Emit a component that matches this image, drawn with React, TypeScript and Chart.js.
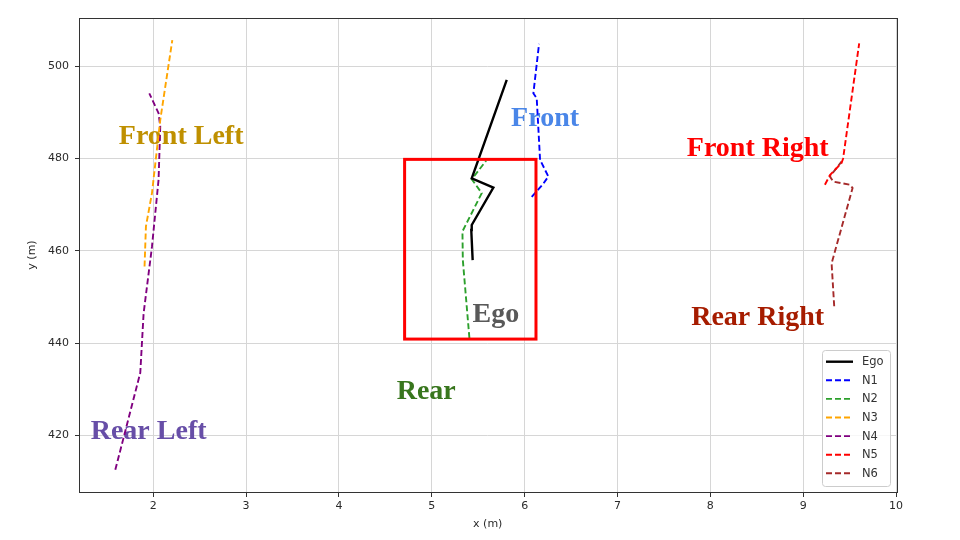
import React, { useEffect, useRef } from "react";
import { Chart, registerables } from "chart.js";

Chart.register(...registerables);

// Axis ranges and ticks
const xMin = 1.2;
const xMax = 10.005;
const yMin = 407.8;
const yMax = 510.4;
const xTicks = [2, 3, 4, 5, 6, 7, 8, 9, 10];
const yTicks = [420, 440, 460, 480, 500];

// Series
const egoX = [5.44, 5.425, 5.43, 5.663, 5.43, 5.807];
const egoY = [458.0, 464.5, 465.6, 473.7, 475.7, 497.0];

const n1X = [6.076, 6.2, 6.255, 6.166, 6.13, 6.094, 6.155];
const n1Y = [471.7, 474.5, 476.1, 479.7, 493.0, 494.1, 504.8];

const n2X = [5.405, 5.334, 5.33, 5.538, 5.43, 5.585];
const n2Y = [441.1, 458.0, 464.2, 472.5, 475.5, 479.5];

const n3X = [1.906, 1.921, 1.986, 2.075, 2.205];
const n3Y = [456.6, 465.3, 472.5, 488.3, 505.6];

const n4X = [1.591, 1.86, 1.896, 1.986, 2.057, 2.075, 2.057, 1.957];
const n4Y = [412.6, 433.6, 446.5, 460.9, 475.4, 486.9, 489.8, 494.1];

const n5X = [9.234, 9.288, 9.413, 9.43, 9.603];
const n5Y = [474.3, 476.4, 479.0, 480.0, 504.9];

const n6X = [9.334, 9.306, 9.532, 9.503, 9.323, 9.288, 9.413];
const n6Y = [448.0, 457.3, 473.6, 474.3, 475.0, 476.1, 479.3];

const seriesLabels = ["Ego", "N1", "N2", "N3", "N4", "N5", "N6"];
const seriesX = [egoX, n1X, n2X, n3X, n4X, n5X, n6X];
const seriesY = [egoY, n1Y, n2Y, n3Y, n4Y, n5Y, n6Y];
const seriesColors = ["#000000", "#0000ff", "#2ca02c", "#ffa500", "#800080", "#ff0000", "#a52a2a"];

// Highlight box (data coordinates)
const boxX = [4.707, 6.122];
const boxY = [440.9, 479.8];

// Text annotations (data coordinates)
const noteTexts = ["Front Left", "Front", "Front Right", "Rear Right", "Ego", "Rear", "Rear Left"];
const noteX = [2.3, 6.22, 8.51, 8.51, 5.69, 4.94, 1.95];
const noteY = [484.6, 488.5, 482.0, 445.5, 446.1, 429.5, 420.8];
const noteColors = ["#bf9000", "#4a86e8", "#ff0000", "#a61c00", "#595959", "#38761d", "#674ea7"];

const notesPlugin = {
  id: "notes",
  beforeDatasetsDraw(chart: any) {
    const { ctx, scales } = chart;
    ctx.save();
    ctx.font = "bold 28px 'Liberation Serif', 'Times New Roman', serif";
    ctx.textAlign = "center";
    ctx.textBaseline = "middle";
    noteTexts.forEach((t, i) => {
      ctx.fillStyle = noteColors[i];
      ctx.fillText(t, scales.x.getPixelForValue(noteX[i]), scales.y.getPixelForValue(noteY[i]));
    });
    ctx.restore();
  },
  afterDatasetsDraw(chart: any) {
    const { ctx, scales, chartArea } = chart;
    ctx.save();
    // red highlight box
    const x0 = scales.x.getPixelForValue(boxX[0]);
    const x1 = scales.x.getPixelForValue(boxX[1]);
    const y0 = scales.y.getPixelForValue(boxY[1]);
    const y1 = scales.y.getPixelForValue(boxY[0]);
    ctx.strokeStyle = "#ff0000";
    ctx.lineWidth = 3;
    ctx.strokeRect(x0, y0, x1 - x0, y1 - y0);

    // frame
    ctx.strokeStyle = "#333333";
    ctx.lineWidth = 1;
    ctx.strokeRect(
      Math.round(chartArea.left) + 0.5,
      Math.round(chartArea.top) + 0.5,
      Math.round(chartArea.right - chartArea.left),
      Math.round(chartArea.bottom - chartArea.top)
    );

    // legend
    const w = 68;
    const h = 136;
    const lx = chartArea.right - 6.5 - w;
    const ly = chartArea.bottom - 6 - h;
    ctx.fillStyle = "rgba(255,255,255,0.8)";
    ctx.strokeStyle = "#cccccc";
    ctx.lineWidth = 1;
    ctx.beginPath();
    (ctx as any).roundRect(lx + 0.5, ly + 0.5, w, h, 3);
    ctx.fill();
    ctx.stroke();
    ctx.font = "11.5px 'DejaVu Sans', sans-serif";
    ctx.textAlign = "left";
    ctx.textBaseline = "middle";
    chart.data.datasets.forEach((ds: any, i: number) => {
      const ry = ly + 11.7 + i * 18.6;
      ctx.strokeStyle = ds.borderColor;
      ctx.lineWidth = ds.borderWidth;
      ctx.setLineDash(ds.borderDash || []);
      ctx.beginPath();
      ctx.moveTo(lx + 4, ry);
      ctx.lineTo(lx + 31, ry);
      ctx.stroke();
      ctx.setLineDash([]);
      ctx.fillStyle = "#333333";
      ctx.fillText(ds.label, lx + 40, ry + 0.5);
    });
    ctx.restore();
  },
};

export default function App() {
  const ref = useRef<HTMLCanvasElement>(null);
  useEffect(() => {
    document.body.style.margin = "0";
    const datasets = seriesLabels.map((label, i) => ({
      label,
      data: seriesX[i].map((x, j) => ({ x, y: seriesY[i][j] })),
      showLine: true,
      borderColor: seriesColors[i],
      backgroundColor: seriesColors[i],
      borderWidth: i === 0 ? 2.4 : 1.9,
      borderDash: i === 0 ? [] : [6, 3],
      pointRadius: 0,
      fill: false,
      tension: 0,
    }));
    const tickFont = { family: "'DejaVu Sans', sans-serif", size: 11 };
    const chart = new Chart(ref.current as HTMLCanvasElement, {
      type: "scatter",
      data: { datasets },
      options: {
        responsive: false,
        animation: false,
        layout: { padding: { top: 18, right: 63.5, left: 0, bottom: 0 } },
        plugins: { legend: { display: false }, tooltip: { enabled: false } },
        scales: {
          x: {
            type: "linear",
            min: xMin,
            max: xMax,
            afterFit: (s: any) => {
              s.height = 48;
            },
            afterBuildTicks: (s: any) => {
              s.ticks = xTicks.map((v) => ({ value: v }));
            },
            grid: { color: "#d6d6d6", lineWidth: 1, tickColor: "#333333", tickLength: 5 },
            border: { display: false },
            ticks: { color: "#2a2a2a", font: tickFont, padding: 3, maxRotation: 0, autoSkip: false },
            title: { display: true, text: "x (m)", color: "#2a2a2a", font: tickFont, padding: { top: 4, bottom: 9 } },
          },
          y: {
            type: "linear",
            min: yMin,
            max: yMax,
            afterFit: (s: any) => {
              s.width = 79;
            },
            afterBuildTicks: (s: any) => {
              s.ticks = yTicks.map((v) => ({ value: v }));
            },
            grid: { color: "#d6d6d6", lineWidth: 1, tickColor: "#333333", tickLength: 4 },
            border: { display: false },
            ticks: { color: "#2a2a2a", font: tickFont, padding: 6, autoSkip: false },
            title: { display: true, text: "y (m)", color: "#2a2a2a", font: tickFont, padding: { top: 26, bottom: 4 } },
          },
        },
      },
      plugins: [notesPlugin],
    });
    return () => chart.destroy();
  }, []);
  return (
    <div style={{ position: "fixed", left: 0, top: 0, width: 960, height: 540, background: "#fff" }}>
      <canvas ref={ref} width={960} height={540} style={{ display: "block", width: 960, height: 540 }} />
    </div>
  );
}
